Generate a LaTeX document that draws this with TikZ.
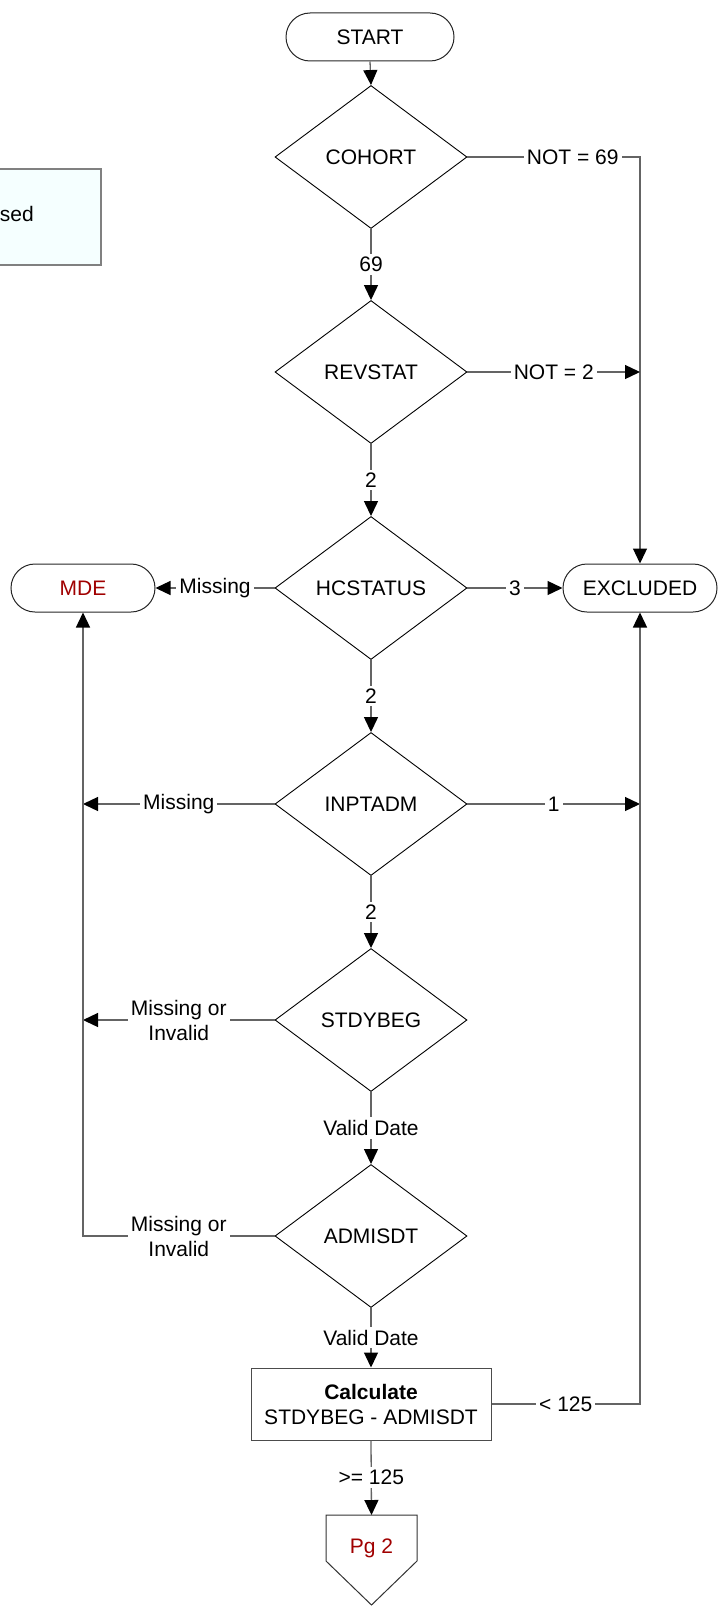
\documentclass[tikz,border=0pt]{standalone}
\usepackage{fontspec}
\setmainfont{Liberation Sans}
\usetikzlibrary{shapes.geometric,arrows.meta}
\definecolor{conncol}{RGB}{100,100,100}
\definecolor{darkred}{RGB}{160,0,0}
\definecolor{legendfill}{RGB}{245,255,255}
\begin{document}
\begin{tikzpicture}[x=1pt,y=-1pt,
  every node/.style={font=\fontsize{21}{25}\selectfont},
  dec/.style={diamond, draw=black, line width=0.9pt, inner sep=0pt, shape aspect=1.34, minimum width=192pt, minimum height=143pt},
  term/.style={rectangle, rounded corners=24pt, draw=black!85, line width=1pt, minimum height=48pt, inner sep=0pt},
  proc/.style={rectangle, draw=black!70, line width=1pt, minimum width=240pt, minimum height=72pt, align=center, inner sep=0pt},
  conn/.style={draw=conncol, line width=1.3pt},
  arr/.style={conn, -{Triangle[length=15pt,width=14pt,black]}},
  lab/.style={fill=white, inner sep=3pt, align=center}
]
\useasboundingbox (0,0) rectangle (719,1608);
% partial legend box at left
\path[draw=gray, line width=1.3pt, fill=legendfill] (-10,169) rectangle (101,265);
\node[anchor=base east, inner sep=0pt] (legend) at (34,222) {ased};
% nodes
\node[term, minimum width=168pt] (start) at (370,37) {START};
\node[dec] (cohort) at (371,157) {COHORT};
\node[dec] (revstat) at (371,372) {REVSTAT};
\node[dec] (hcstatus) at (371,588) {HCSTATUS};
\node[dec] (inptadm) at (371,804) {INPTADM};
\node[dec] (stdybeg) at (371,1020) {STDYBEG};
\node[dec] (admisdt) at (371,1236) {ADMISDT};
\node[proc] (calc) at (371,1404) {\textbf{Calculate}\\STDYBEG - ADMISDT};
\node[term, minimum width=144pt, text=darkred] (mde) at (83,588) {MDE};
\node[term, minimum width=154pt] (excl) at (640,588) {EXCLUDED};
% off-page connector
\draw[draw=black!80, line width=1pt] (326,1515) -- (417,1515) -- (417,1561) -- (371.5,1605) -- (326,1561) -- cycle;
\coordinate (pgtop) at (371.5,1515);
\node[text=darkred] (pg2) at (371.5,1548) {Pg 2};
% connectors
\draw[arr] (start.south) -- (cohort.north);
\draw[arr] (cohort.east) -- node[lab,pos=0.61]{NOT = 69} (excl.north |- cohort.east) -- (excl.north);
\draw[arr] (cohort.south) -- node[lab]{69} (revstat.north);
\draw[arr] (revstat.east) -- node[lab]{NOT = 2} (excl.north |- revstat.east);
\draw[arr] (revstat.south) -- node[lab]{2} (hcstatus.north);
\draw[arr] (hcstatus.east) -- node[lab]{3} (excl.west);
\draw[arr] (hcstatus.west) -- node[lab]{Missing} (mde.east);
\draw[arr] (hcstatus.south) -- node[lab]{2} (inptadm.north);
\draw[arr] (inptadm.east) -- node[lab]{1} (excl.south |- inptadm.east);
\draw[arr] (inptadm.west) -- node[lab]{Missing} (mde.south |- inptadm.west);
\draw[arr] (inptadm.south) -- node[lab]{2} (stdybeg.north);
\draw[arr] (stdybeg.west) -- node[lab]{Missing or\\Invalid} (mde.south |- stdybeg.west);
\draw[arr] (stdybeg.south) -- node[lab]{Valid Date} (admisdt.north);
\draw[arr] (admisdt.west) -- node[lab]{Missing or\\Invalid} (mde.south |- admisdt.west) -- (mde.south);
\draw[arr] (admisdt.south) -- node[lab]{Valid Date} (calc.north);
\draw[arr] (calc.east) -- node[lab]{< 125} (excl.south |- calc.east) -- (excl.south);
\draw[arr] (calc.south) -- node[lab]{>= 125} (pgtop);
\end{tikzpicture}
\end{document}
